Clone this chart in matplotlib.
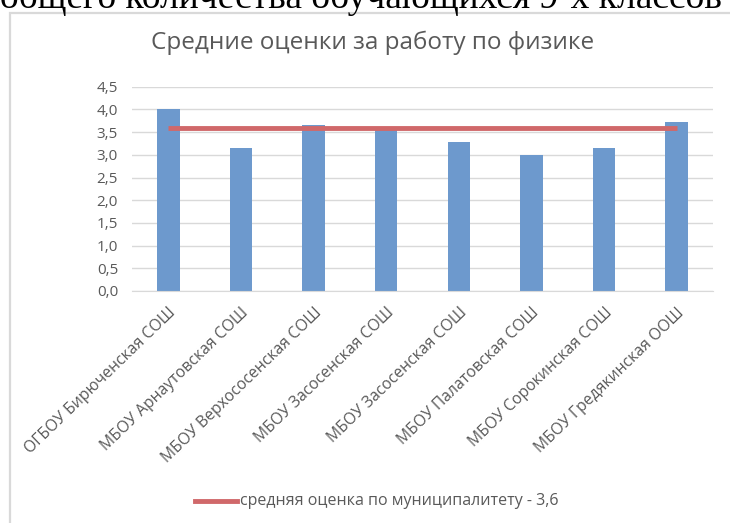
import matplotlib
matplotlib.use("Agg")
import matplotlib.pyplot as plt
from matplotlib.patches import Rectangle
from matplotlib.lines import Line2D

# -----------------------------
# данные
# -----------------------------
schools = [
    "ОГБОУ Бирюченская СОШ",
    "МБОУ Арнаутовская СОШ",
    "МБОУ Верхососенская СОШ",
    "МБОУ Засосенская СОШ",
    "МБОУ Засосенская СОШ",
    "МБОУ Палатовская СОШ",
    "МБОУ Сорокинская СОШ",
    "МБОУ Гредякинская ООШ",
]
scores = [4.0, 3.16, 3.66, 3.58, 3.29, 3.0, 3.16, 3.73]
avg_value = 3.6
avg_line = [avg_value] * len(schools)
yticks = [0.0, 0.5, 1.0, 1.5, 2.0, 2.5, 3.0, 3.5, 4.0, 4.5]
ytick_labels = ["0,0", "0,5", "1,0", "1,5", "2,0", "2,5", "3,0", "3,5", "4,0", "4,5"]

title = "Средние оценки за работу по физике"
legend_label = "средняя оценка по муниципалитету - 3,6"
page_text = "общего количества обучающихся 9-х классов"

gray = "#595959"
grid_gray = "#d9d9d9"
bar_color = "#6d99cd"
line_color = "#d0686a"
font = "Open Sans"

fig = plt.figure(figsize=(7.3, 5.23), dpi=100)

# обрезанная строка текста документа сверху
fig.text(0.0, 1 - 7.5 / 523, page_text, family="Liberation Serif",
         fontsize=27, color="black", ha="left", va="baseline")

# рамка диаграммы
fig.patches.append(Rectangle((10 / 730, -0.05), 1.0, 1 - 13 / 523 + 0.05,
                             transform=fig.transFigure, fill=False,
                             edgecolor=grid_gray, linewidth=1.6))

ax = fig.add_axes([132 / 730, 1 - 291 / 523, (713 - 132) / 730, (291 - 86.7) / 523])
x = list(range(len(schools)))
ax.bar(x, scores, width=0.31, color=bar_color, zorder=2)
ax.plot(x, avg_line, color=line_color, linewidth=3.5, zorder=3,
        solid_capstyle="butt")

ax.set_xlim(-0.5, len(schools) - 0.5)
ax.set_ylim(0, 4.5)
ax.set_yticks(yticks)
ax.set_yticklabels(ytick_labels, family=font, fontsize=11, color=gray)
ax.set_xticks(x)
ax.set_xticklabels(schools, rotation=44, ha="right", rotation_mode="anchor",
                   family=font, fontsize=11.3, color=gray)
ax.tick_params(length=0)
ax.tick_params(axis="x", pad=10)
ax.tick_params(axis="y", pad=10)
ax.grid(axis="y", color=grid_gray, linewidth=1.0, zorder=0)
for s in ["left", "right", "top"]:
    ax.spines[s].set_visible(False)
ax.spines["bottom"].set_color(grid_gray)
ax.set_axisbelow(True)

fig.text(373 / 730, 1 - 43 / 523, title, family=font, fontsize=17.5,
         color=gray, ha="center", va="center")

# легенда
fig.lines.append(Line2D([195 / 730, 237 / 730], [1 - 501 / 523, 1 - 501 / 523],
                        transform=fig.transFigure, color=line_color,
                        linewidth=3.5))
fig.text(240 / 730, 1 - 501 / 523, legend_label, family=font, fontsize=11.5,
         color=gray, ha="left", va="center")

fig.savefig("out.png", dpi=100)
